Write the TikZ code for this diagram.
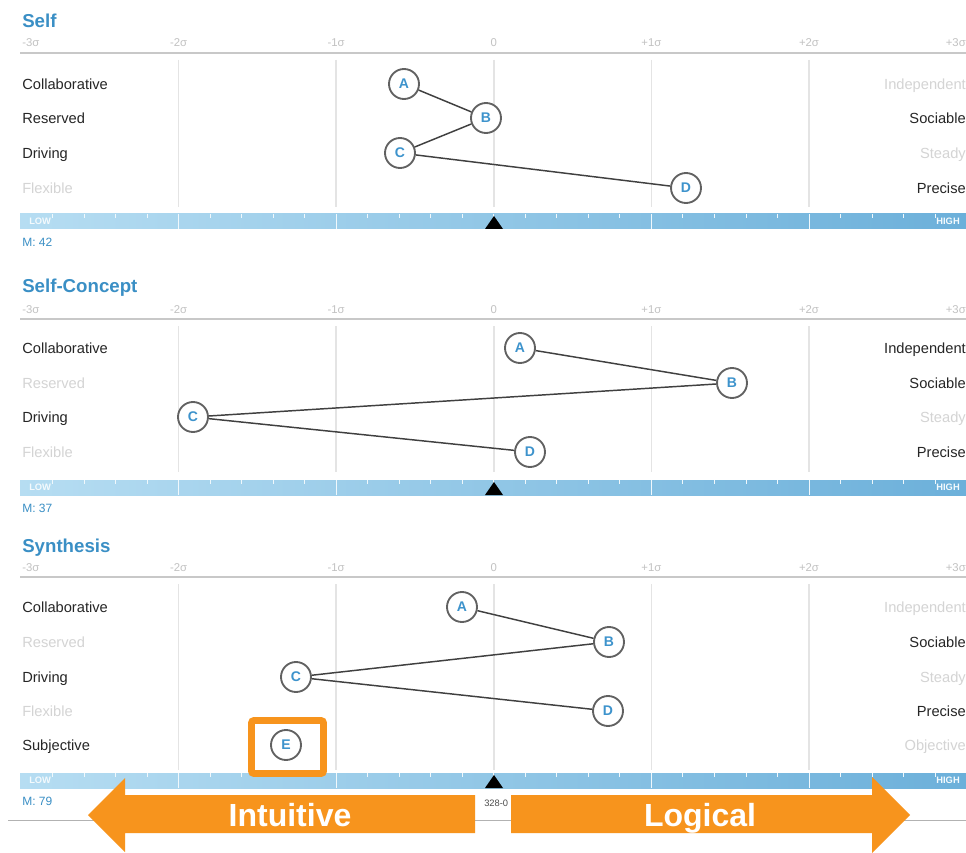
\documentclass[tikz,border=0pt]{standalone}
\usepackage{fontspec}
\setmainfont{Liberation Sans}
\definecolor{titleblue}{HTML}{3A8FC5}
\definecolor{letterblue}{HTML}{3D93CC}
\definecolor{darktext}{HTML}{262626}
\definecolor{lighttext}{HTML}{D4D4D4}
\definecolor{sigmagray}{HTML}{C2C2C2}
\definecolor{gridgray}{HTML}{E4E4E4}
\definecolor{rulegray}{HTML}{C8C8C8}
\definecolor{barlight}{HTML}{B6DDF2}
\definecolor{bardark}{HTML}{6CB0DA}
\definecolor{accent}{HTML}{F7941D}

\tikzset{
  paneltitle/.style={anchor=west, inner sep=0pt, text height=10pt, text depth=0pt,
    text=titleblue, font=\fontsize{14}{16}\selectfont\bfseries},
  sigmalbl/.style={inner sep=0pt, text height=6pt, text depth=0pt, text=sigmagray,
    font=\fontsize{8.5}{10}\selectfont},
  lbl/.style={anchor=west, inner sep=0pt, text height=7.9pt, text depth=0pt,
    font=\fontsize{11}{13}\selectfont},
  rlbl/.style={anchor=east, inner sep=0pt, text height=7.9pt, text depth=0pt,
    font=\fontsize{11}{13}\selectfont},
  on/.style={text=darktext},
  off/.style={text=lighttext},
  barword/.style={inner sep=0pt, text height=5pt, text depth=0pt, text=white!85!barlight,
    font=\fontsize{7}{8}\selectfont\bfseries},
  meanlabel/.style={anchor=west, inner sep=0pt, text height=6.5pt, text depth=0pt,
    text=titleblue, font=\fontsize{9}{10}\selectfont},
  pt/.style={circle, draw=black!62, line width=1.4pt, fill=white, minimum size=22.5pt,
    inner sep=0pt, text=letterblue, font=\fontsize{10.5}{12}\selectfont\bfseries},
  link/.style={draw=black!75, line width=1.1pt},
  bigarrow/.style={fill=accent},
  arrowword/.style={inner sep=0pt, text height=17.5pt, text depth=0pt, text=white,
    font=\fontsize{24}{28}\selectfont\bfseries},
}

% #1 prefix, #2 title, #3 title y, #4 rule y, #5 grid bottom, #6 bar top, #7 mean text
\newcommand{\drawaxis}[7]{%
  \node[paneltitle] (#1title) at (22,#3) {#2};
  \draw[rulegray, line width=1.5pt] (20,#4) -- (966,#4);
  \foreach \k in {1,...,5}
    \draw[gridgray, line width=1.1pt] ({21+157.6*\k},#4+7) -- ({21+157.6*\k},#5);
  \node[sigmalbl, anchor=west] (#1sa) at (22,#4-10) {-3σ};
  \node[sigmalbl] (#1sb) at (178.6,#4-10) {-2σ};
  \node[sigmalbl] (#1sc) at (336.2,#4-10) {-1σ};
  \node[sigmalbl] (#1sd) at (493.8,#4-10) {0};
  \node[sigmalbl] (#1se) at (651.4,#4-10) {+1σ};
  \node[sigmalbl] (#1sf) at (809,#4-10) {+2σ};
  \node[sigmalbl, anchor=east] (#1sg) at (966,#4-10) {+3σ};
  \shade[left color=barlight, right color=bardark] (20,#6) rectangle (966,#6+15);
  \foreach \k in {1,...,29}
    \draw[white!80!barlight, line width=0.7pt] ({21+31.52*\k},#6) -- ++(0,4);
  \foreach \k in {1,...,5}
    \draw[white!80!barlight, line width=0.7pt] ({21+157.6*\k},#6) -- ++(0,15);
  \node[barword, anchor=west] (#1low) at (29,#6+7.5) {LOW};
  \node[barword, anchor=east] (#1high) at (960,#6+7.5) {HIGH};
  \fill[black] (485,#6+15) -- (503,#6+15) -- (494,#6+2) -- cycle;
  \node[meanlabel] (#1mean) at (22,#6+28) {#7};
}

\begin{document}
\begin{tikzpicture}[x=0.75pt, y=-0.75pt]
  \useasboundingbox[fill=white] (0,0) rectangle (966,852);

  % ---------- Self ----------
  \drawaxis{p}{Self}{21}{53}{207}{214}{M: 42}
  \node[lbl, on]  (pL1) at (22,84)  {Collaborative};
  \node[lbl, on]  (pL2) at (22,118) {Reserved};
  \node[lbl, on]  (pL3) at (22,153) {Driving};
  \node[lbl, off] (pL4) at (22,188) {Flexible};
  \node[rlbl, off] (pR1) at (966,84)  {Independent};
  \node[rlbl, on]  (pR2) at (966,118) {Sociable};
  \node[rlbl, off] (pR3) at (966,153) {Steady};
  \node[rlbl, on]  (pR4) at (966,188) {Precise};
  \node[pt] (pA) at (404,84)  {A};
  \node[pt] (pB) at (486,118) {B};
  \node[pt] (pC) at (400,153) {C};
  \node[pt] (pD) at (686,188) {D};
  \draw[link] (pA) -- (pB);
  \draw[link] (pB) -- (pC);
  \draw[link] (pC) -- (pD);

  % ---------- Self-Concept ----------
  \drawaxis{q}{Self-Concept}{286}{319}{472}{480}{M: 37}
  \node[lbl, on]  (qL1) at (22,348) {Collaborative};
  \node[lbl, off] (qL2) at (22,383) {Reserved};
  \node[lbl, on]  (qL3) at (22,417) {Driving};
  \node[lbl, off] (qL4) at (22,452) {Flexible};
  \node[rlbl, on]  (qR1) at (966,348) {Independent};
  \node[rlbl, on]  (qR2) at (966,383) {Sociable};
  \node[rlbl, off] (qR3) at (966,417) {Steady};
  \node[rlbl, on]  (qR4) at (966,452) {Precise};
  \node[pt] (qA) at (520,348) {A};
  \node[pt] (qB) at (732,383) {B};
  \node[pt] (qC) at (193,417) {C};
  \node[pt] (qD) at (530,452) {D};
  \draw[link] (qA) -- (qB);
  \draw[link] (qB) -- (qC);
  \draw[link] (qC) -- (qD);

  % ---------- Synthesis ----------
  \drawaxis{r}{Synthesis}{546}{577}{770}{773}{M: 79}
  \node[lbl, on]  (rL1) at (22,607) {Collaborative};
  \node[lbl, off] (rL2) at (22,642) {Reserved};
  \node[lbl, on]  (rL3) at (22,677) {Driving};
  \node[lbl, off] (rL4) at (22,711) {Flexible};
  \node[lbl, on]  (rL5) at (22,745) {Subjective};
  \node[rlbl, off] (rR1) at (966,607) {Independent};
  \node[rlbl, on]  (rR2) at (966,642) {Sociable};
  \node[rlbl, off] (rR3) at (966,677) {Steady};
  \node[rlbl, on]  (rR4) at (966,711) {Precise};
  \node[rlbl, off] (rR5) at (966,745) {Objective};
  \node[pt] (rA) at (462,607) {A};
  \node[pt] (rB) at (609,642) {B};
  \node[pt] (rC) at (296,677) {C};
  \node[pt] (rD) at (608,711) {D};
  \node[pt] (rE) at (286,745) {E};
  \draw[link] (rA) -- (rB);
  \draw[link] (rB) -- (rC);
  \draw[link] (rC) -- (rD);

  % highlight frame round E
  \draw[accent, line width=5.2pt, rounded corners=2pt] (251.5,720.5) rectangle (323.5,773.5);

  % footer
  \draw[black!30, line width=0.6pt] (8,820) -- (966,820);
  \node[anchor=west, inner sep=0pt, text=black!70, font=\fontsize{7}{8}\selectfont] (docid) at (484,803) {328-0};

  % direction arrows
  \fill[bigarrow] (475,795) -- (125,795) -- (125,778) -- (88,815) -- (125,852) -- (125,833) -- (475,833) -- cycle;
  \fill[bigarrow] (511,795) -- (872,795) -- (872,777) -- (910,815) -- (872,853) -- (872,833) -- (511,833) -- cycle;
  \node[arrowword] (intuitive) at (290,815) {Intuitive};
  \node[arrowword] (logical) at (700,815) {Logical};
\end{tikzpicture}
\end{document}
